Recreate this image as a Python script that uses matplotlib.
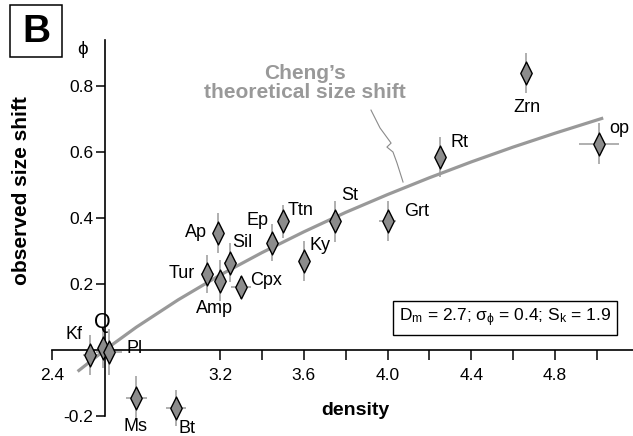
import numpy as np
import matplotlib
matplotlib.use("Agg")
import matplotlib.pyplot as plt
from matplotlib.path import Path
from matplotlib.patches import Rectangle

plt.rcParams['font.family'] = ['Liberation Sans', 'DejaVu Sans']
plt.rcParams['mathtext.fontset'] = 'custom'
plt.rcParams['mathtext.rm'] = 'Liberation Sans'
plt.rcParams['mathtext.it'] = 'Liberation Sans:italic'
plt.rcParams['mathtext.bf'] = 'Liberation Sans:bold'

# minerals: density (g/cm3) and observed size shift (phi)
minerals = ['Kf', 'Q', 'Pl', 'Ms', 'Bt', 'Tur', 'Amp', 'Ap', 'Sil', 'Cpx',
            'Ep', 'Ttn', 'Ky', 'St', 'Grt', 'Rt', 'Zrn', 'op']
density = [2.58, 2.64, 2.67, 2.80, 2.99, 3.14, 3.20, 3.19, 3.25, 3.30,
           3.45, 3.50, 3.60, 3.75, 4.00, 4.25, 4.66, 5.01]
shift = [-0.015, 0.005, -0.005, -0.145, -0.175, 0.23, 0.21, 0.355, 0.265, 0.19,
         0.325, 0.39, 0.27, 0.39, 0.39, 0.585, 0.84, 0.625]
shift_err = [0.06, 0.06, 0.07, 0.065, 0.055, 0.058, 0.062, 0.06, 0.058, 0.035,
             0.056, 0.05, 0.06, 0.062, 0.06, 0.06, 0.06, 0.062]
density_err = [0.033, 0.02, 0.06, 0.05, 0.048, 0.03, 0.0, 0.0, 0.033, 0.047,
               0.027, 0.0, 0.0, 0.0, 0.04, 0.0, 0.0, 0.095]

# label offsets (pixels)
label_dx = [-16, 0, 17, -1, 11, -26, -6, -22, 12, 25, -15, 18, 16, 15, 29, 20, 1, 20]
label_dy = [20, 26, 3, -29, -21, 1, -28, 0, 20, 7, 22, 11, 15, 26, 10, 14, -35, 15]

# Cheng's theoretical curve
curve_density = [2.52, 2.65, 2.8, 3.0, 3.2, 3.4, 3.6, 3.8, 4.0, 4.2, 4.4, 4.6, 4.8, 5.03]
curve_shift = [-0.065, 0.0, 0.069, 0.152, 0.227, 0.295, 0.358, 0.417, 0.471,
               0.522, 0.570, 0.615, 0.657, 0.703]

# wavy leader from the curve label down to the curve
leader_x = [3.921, 3.964, 4.017, 3.997, 4.026, 4.045, 4.074]
leader_y = [0.727, 0.673, 0.627, 0.615, 0.600, 0.567, 0.509]

W, H = 633, 436
fig = plt.figure(figsize=(W / 100, H / 100), dpi=100)
ax = fig.add_axes([0, 0, 1, 1])
ax.set_xlim(2.1493, 2.1493 + W / 209.4)
ax.set_ylim(-86 / 330, 350 / 330)


def fpx(x, y):
    return x / W, 1 - y / H


for s in ['top', 'right']:
    ax.spines[s].set_visible(False)
ax.spines['left'].set_position(('data', 2.65))
ax.spines['bottom'].set_position(('data', 0))
ax.spines['left'].set_bounds(-0.2, 0.939)
ax.spines['bottom'].set_bounds(2.4, 5.2)
for s in ['left', 'bottom']:
    ax.spines[s].set_linewidth(1.2)

ax.set_xticks([2.4, 3.2, 3.6, 4.0, 4.4, 4.8])
ax.set_xticklabels(['2.4', '3.2', '3.6', '4.0', '4.4', '4.8'])
ax.set_xticks([3.4, 3.8, 4.2, 4.6, 5.0], minor=True)
ax.set_yticks([-0.2, 0.2, 0.4, 0.6, 0.8])
ax.set_yticklabels(['-0.2', '0.2', '0.4', '0.6', '0.8'])
ax.tick_params(axis='x', which='both', direction='out', length=7, width=1.1,
               labelsize=12.5, pad=6)
ax.tick_params(axis='y', direction='out', length=6.5, width=1.1, labelsize=12.5, pad=2)
ax.patch.set_visible(False)

ax.plot(curve_density, curve_shift, color='#999999', lw=2.3, zorder=2,
        solid_capstyle='butt')
ax.plot(leader_x, leader_y, color='#8a8a8a', lw=0.8, zorder=2)

ax.errorbar(density, shift, yerr=shift_err, xerr=density_err, fmt='none',
            ecolor='#9a9a9a', elinewidth=1.1, capsize=0, zorder=3)

diamond = Path([(0, 1), (0.5, 0), (0, -1), (-0.5, 0), (0, 1)],
               [Path.MOVETO, Path.LINETO, Path.LINETO, Path.LINETO, Path.CLOSEPOLY])
ax.plot(density, shift, linestyle='none', marker=diamond, markersize=16.5,
        markerfacecolor='#8c8c8c', markeredgecolor='black', markeredgewidth=1.0,
        zorder=4)

for name, x, y, dx, dy in zip(minerals, density, shift, label_dx, label_dy):
    ha = 'left' if name == 'Pl' else 'center'
    size = 15.5 if name == 'Q' else 13
    ax.annotate(name, (x, y), xytext=(dx, dy), textcoords='offset pixels',
                ha=ha, va='center', fontsize=size, zorder=5)

fig.text(*fpx(305, 83), "Cheng\u2019s\ntheoretical size shift", color='#999999',
         fontsize=15, fontweight='bold', ha='center', va='center',
         linespacing=0.95)

ax.text(*fpx(505, 318), 'D$_\\mathrm{m}$ = 2.7; \u03c3$_\\mathrm{\u03d5}$ = 0.4; S$_\\mathrm{k}$ = 1.9',
        transform=fig.transFigure, ha='center', va='center', fontsize=12.5,
        bbox=dict(boxstyle='square,pad=0.35', facecolor='white',
                  edgecolor='black', linewidth=1.0))

fig.text(*fpx(22, 191), 'observed size shift', rotation=90, ha='center',
         va='center', fontsize=15, fontweight='bold')
fig.text(*fpx(355, 410), 'density', ha='center', va='center', fontsize=14,
         fontweight='bold')
fig.text(*fpx(83, 50), '\u03d5', ha='center', va='center', fontsize=13.5)

x0, y0 = fpx(10, 57)
fig.patches.append(Rectangle((x0, y0), 52 / W, 52 / H, transform=fig.transFigure,
                             fill=False, edgecolor='black', linewidth=1.1))
fig.text(*fpx(36, 32), 'B', ha='center', va='center', fontsize=28,
         fontweight='bold')

fig.savefig('out.png', dpi=100)
